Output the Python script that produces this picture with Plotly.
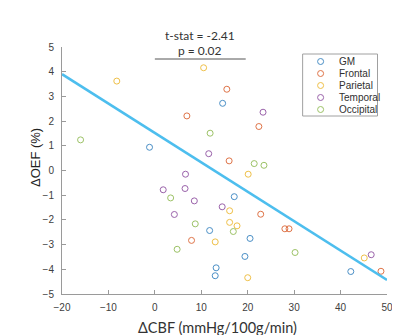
import plotly.graph_objects as go

# ---- data ----
groups = ["GM", "Frontal", "Parietal", "Temporal", "Occipital"]
colors = ["#4a8fc6", "#df7448", "#efc048", "#9a62aa", "#9cc266"]

gm_x = [-1.15, 14.6, 17.1, 11.8, 20.5, 19.4, 13.2, 13.0, 42.2]
gm_y = [0.94, 2.72, -1.06, -2.43, -2.75, -3.48, -3.94, -4.26, -4.09]

frontal_x = [6.9, 15.5, 22.4, 16.0, 22.8, 7.9, 28.0, 28.9, 48.7]
frontal_y = [2.21, 3.29, 1.78, 0.39, -1.77, -2.83, -2.36, -2.36, -4.08]

parietal_x = [-8.2, 10.5, 20.1, 16.1, 16.1, 17.7, 13.0, 20.0, 45.1]
parietal_y = [3.62, 4.16, -0.15, -1.63, -2.10, -2.24, -2.89, -4.34, -3.54]

temporal_x = [6.6, 23.3, 11.6, 6.5, 1.8, 8.5, 4.2, 14.5, 46.6]
temporal_y = [-0.15, 2.36, 0.68, -0.73, -0.78, -1.23, -1.78, -1.47, -3.41]

occipital_x = [-16.0, 11.9, 21.4, 23.5, 3.4, 8.7, 16.9, 4.8, 30.2]
occipital_y = [1.24, 1.51, 0.28, 0.21, -1.11, -2.16, -2.47, -3.19, -3.32]

fit_x = [-20, 50]
fit_y = [3.90, -4.43]

stat_text = ["t-stat = -2.41", "p = 0.02"]
x_ticks = [-20, -10, 0, 10, 20, 30, 40, 50]
y_ticks = [-5, -4, -3, -2, -1, 0, 1, 2, 3, 4, 5]
x_title = "ΔCBF (mmHg/100g/min)"
y_title = "ΔOEF (%)"

series_x = [gm_x, frontal_x, parietal_x, temporal_x, occipital_x]
series_y = [gm_y, frontal_y, parietal_y, temporal_y, occipital_y]

# ---- layout geometry (pixels) ----
W, H = 400, 335
L, R, T, B = 54, 20.5, 39, 49
PW, PH = W - L - R, H - T - B

def px(xp):
    return (xp - L) / PW

def py(yp):
    return (H - B - yp) / PH

fig = go.Figure()

for name, col, xs, ys in zip(groups, colors, series_x, series_y):
    fig.add_trace(go.Scatter(
        x=xs, y=ys, mode="markers", name=name, showlegend=False,
        marker=dict(symbol="circle-open", size=6, color=col,
                    line=dict(width=1, color=col)),
    ))

fig.add_trace(go.Scatter(
    x=fit_x, y=fit_y, mode="lines", showlegend=False,
    line=dict(color="#4dbeee", width=2.5),
))

axis_common = dict(
    showgrid=False, zeroline=False, showline=True,
    linecolor="#9a9a9a", linewidth=1,
    ticks="inside", ticklen=4, tickcolor="#9a9a9a", tickwidth=1,
    tickfont=dict(family="Arial, Liberation Sans", size=10, color="#404040"),
    mirror=False,
)

fig.update_xaxes(range=[-20, 50], tickvals=x_ticks, ticklabelstandoff=4, **axis_common)
fig.update_yaxes(range=[-5, 5], tickvals=y_ticks, ticklabelstandoff=5, **axis_common)

shapes = []
annotations = []

stat_font = dict(family="Lato", size=12, color="#333333")
annotations.append(dict(text=stat_text[0], x=px(192), y=py(28), xref="paper", yref="paper",
                        showarrow=False, xanchor="center", yanchor="middle", font=stat_font))
annotations.append(dict(text=stat_text[1], x=px(192), y=py(42), xref="paper", yref="paper",
                        showarrow=False, xanchor="center", yanchor="middle", font=stat_font))
shapes.append(dict(type="line", xref="paper", yref="paper",
                   x0=px(147), x1=px(238), y0=py(51), y1=py(51),
                   line=dict(color="#555555", width=1)))

# axis titles
annotations.append(dict(text=x_title, x=px(210), y=py(319), xref="paper", yref="paper",
                        showarrow=False, xanchor="center", yanchor="middle",
                        font=dict(family="Lato", size=14.5, color="#333333")))
annotations.append(dict(text=y_title, x=px(27), y=py(150), xref="paper", yref="paper",
                        showarrow=False, xanchor="center", yanchor="middle", textangle=-90,
                        font=dict(family="Arial, Liberation Sans", size=13, color="#222222")))

# legend box
shapes.append(dict(type="rect", xref="paper", yref="paper",
                   x0=px(295), x1=px(370), y0=py(108), y1=py(46),
                   line=dict(color="#a0a0a0", width=1), fillcolor="white"))
for i, (name, col) in enumerate(zip(groups, colors)):
    yy = 53.5 + 12 * i
    shapes.append(dict(type="circle", xref="paper", yref="paper",
                       xsizemode="pixel", ysizemode="pixel",
                       xanchor=px(313), yanchor=py(yy),
                       x0=-3, x1=3, y0=-3, y1=3,
                       line=dict(color=col, width=1)))
    annotations.append(dict(text=name, x=px(329), y=py(yy), xref="paper", yref="paper",
                            showarrow=False, xanchor="left", yanchor="middle",
                            font=dict(family="Arial, Liberation Sans", size=10, color="#303030")))

fig.update_layout(
    width=W, height=H,
    margin=dict(l=L, r=R, t=T, b=B),
    paper_bgcolor="white", plot_bgcolor="white",
    shapes=shapes, annotations=annotations,
    showlegend=False,
)

fig.write_html("out.html")
